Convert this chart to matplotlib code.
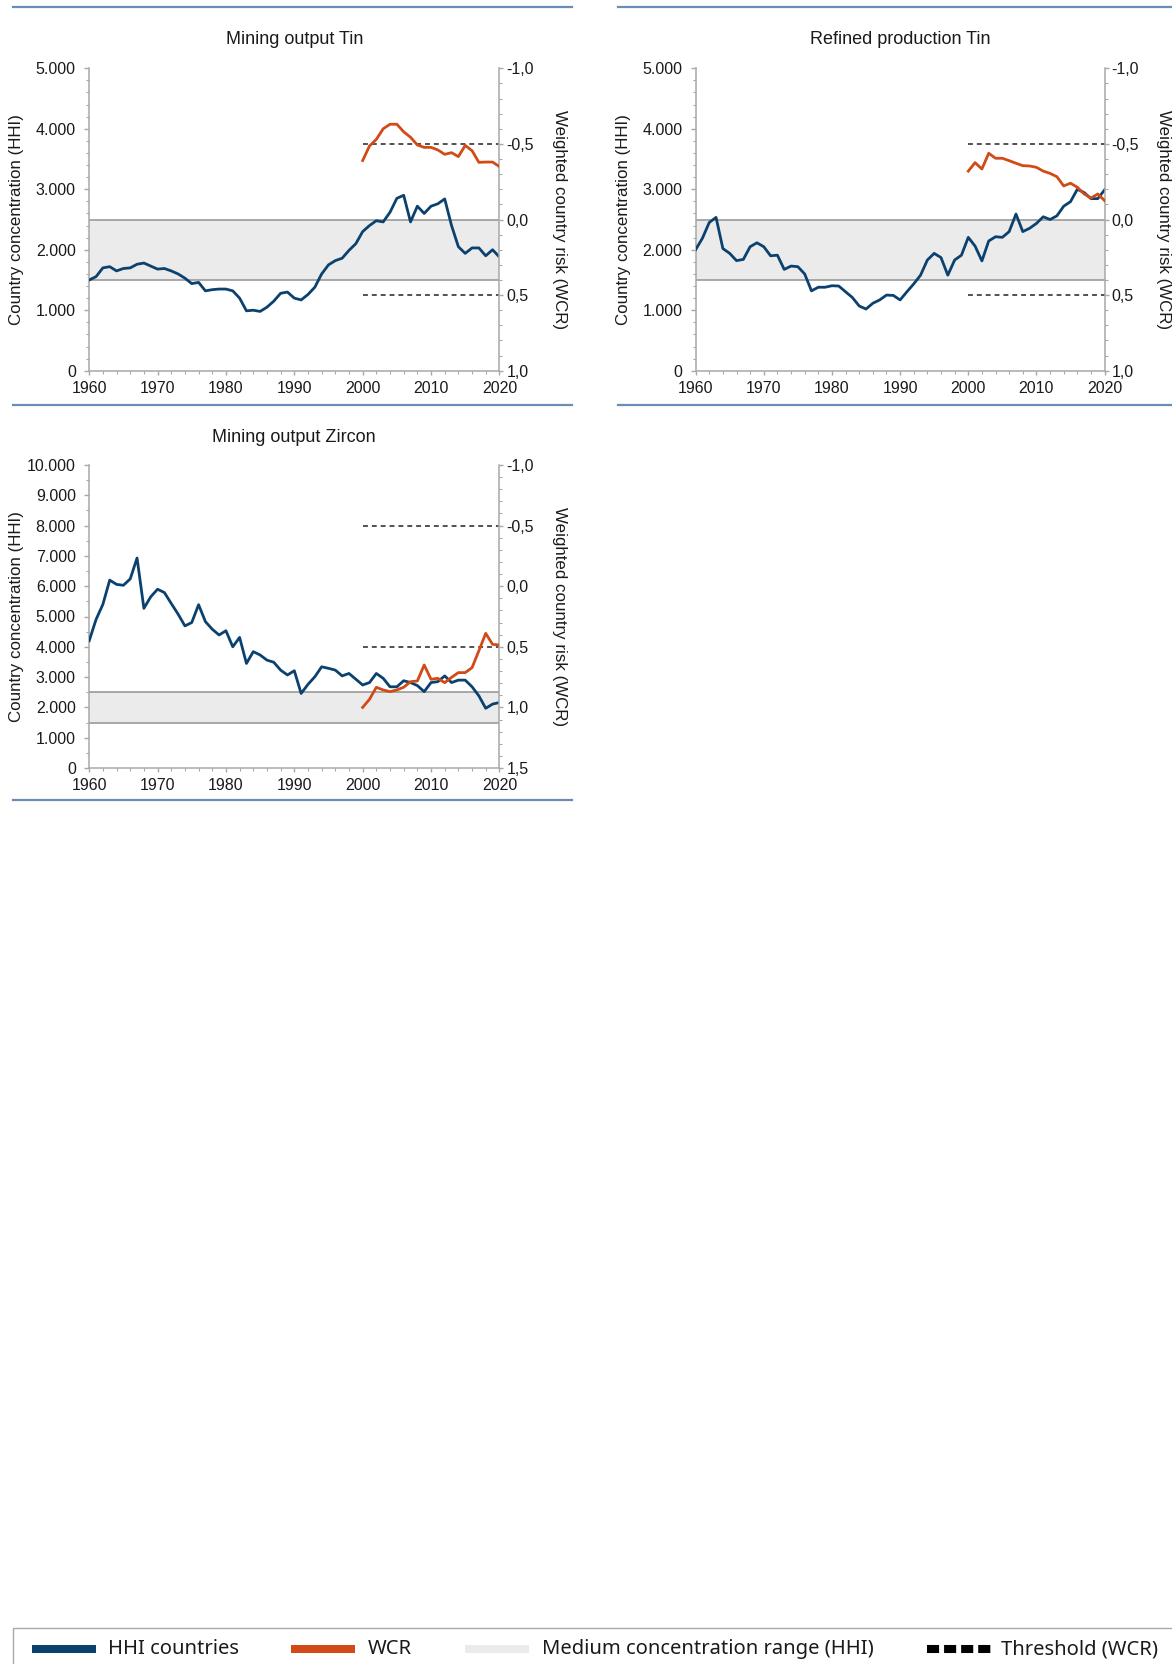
import matplotlib
matplotlib.use("Agg")
import matplotlib.pyplot as plt
from matplotlib.ticker import MultipleLocator, FuncFormatter
from matplotlib.patches import Rectangle
from matplotlib.lines import Line2D

# ---------------- data ----------------
years = list(range(1960, 2021))
wcr_years = list(range(2000, 2021))

tin_mining_hhi = [1500, 1555, 1700, 1720, 1650, 1690, 1700, 1760, 1780, 1730,
                  1680, 1690, 1650, 1600, 1530, 1440, 1460, 1320, 1340, 1350,
                  1350, 1320, 1200, 990, 1000, 980, 1050, 1150, 1280, 1300,
                  1200, 1170, 1260, 1380, 1600, 1750, 1820, 1860, 1990, 2100,
                  2300, 2400, 2480, 2460, 2620, 2850, 2900, 2460, 2720, 2600,
                  2720, 2760, 2840, 2400, 2050, 1940, 2030, 2030, 1900, 2000,
                  1880]
tin_mining_wcr = [-0.39, -0.486, -0.53, -0.60, -0.63, -0.63, -0.58, -0.544, -0.493, -0.477,
                  -0.477, -0.46, -0.431, -0.442, -0.416, -0.49, -0.455, -0.378, -0.38, -0.38,
                  -0.35]

tin_refined_hhi = [2000, 2190, 2450, 2535, 2020, 1940, 1820, 1840, 2050, 2115,
                   2050, 1900, 1910, 1675, 1730, 1720, 1600, 1320, 1380, 1380,
                   1405, 1400, 1305, 1210, 1070, 1020, 1115, 1170, 1250, 1245,
                   1170, 1305, 1435, 1580, 1830, 1940, 1870, 1580, 1830, 1910,
                   2205, 2060, 1815, 2145, 2215, 2205, 2300, 2590, 2300, 2355,
                   2435, 2545, 2500, 2560, 2720, 2795, 3000, 2945, 2845, 2845,
                   2990]
tin_refined_wcr = [-0.32, -0.376, -0.334, -0.438, -0.405, -0.405, -0.389, -0.372, -0.356, -0.354,
                   -0.345, -0.32, -0.305, -0.283, -0.222, -0.24, -0.213, -0.169, -0.142, -0.169,
                   -0.125]

zircon_hhi = [4200, 4900, 5400, 6200, 6060, 6030, 6240, 6930, 5270, 5650,
              5900, 5790, 5430, 5080, 4690, 4800, 5390, 4830, 4580, 4390,
              4530, 4000, 4310, 3450, 3840, 3730, 3560, 3490, 3230, 3070,
              3210, 2460, 2760, 3010, 3340, 3290, 3230, 3040, 3120, 2930,
              2740, 2820, 3120, 2960, 2680, 2680, 2880, 2820, 2720, 2520,
              2820, 2850, 3040, 2820, 2900, 2900, 2680, 2380, 1970, 2110,
              2160]
zircon_wcr = [1.0, 0.933, 0.834, 0.856, 0.87, 0.856, 0.834, 0.788, 0.782, 0.65,
              0.768, 0.76, 0.796, 0.752, 0.713, 0.713, 0.672, 0.532, 0.389, 0.48,
              0.485]

titles = ["Mining output Tin", "Refined production Tin", "Mining output Zircon"]
medium_range = (1500, 2500)
wcr_thresholds = [-0.5, 0.5]
left_label = "Country concentration (HHI)"
right_label = "Weighted country risk (WCR)"
legend_labels = ["HHI countries", "WCR", "Medium concentration range (HHI)", "Threshold (WCR)"]

# ---------------- style ----------------
BLUE = "#0b416f"
ORANGE = "#d24a16"
BAND = "#ebebeb"
BANDLINE = "#9a9a9a"
SPINE = "#a8a8a8"
SEP = "#6a8db3"
TXT = "#1a1a1a"
MAINFONT = ["Liberation Sans", "DejaVu Sans"]
TICKFONT = ["Liberation Sans Narrow", "Liberation Sans", "DejaVu Sans"]
plt.rcParams["font.family"] = TICKFONT

W, H = 1172, 1664
fig = plt.figure(figsize=(W / 100, H / 100), dpi=100)


def fx(px):
    return px / W


def fy(py):
    return 1 - py / H


def hhi_fmt(v, pos):
    return "{:,.0f}".format(v).replace(",", ".")


def wcr_fmt(v, pos):
    s = "{:.1f}".format(v).replace(".", ",")
    if s == "-0,0":
        s = "0,0"
    return s


def make_panel(left_px, right_px, top_px, bottom_px, title, hhi, wcr,
               hhi_max, hhi_minor, wcr_lim, lab_left_x, lab_right_x, title_y):
    ax = fig.add_axes([fx(left_px), fy(bottom_px), fx(right_px - left_px),
                       (bottom_px - top_px) / H])
    ax.axhspan(medium_range[0], medium_range[1], color=BAND, lw=0, zorder=0)
    for v in medium_range:
        ax.axhline(v, color=BANDLINE, lw=1.2, zorder=1)
    ax.plot(years, hhi, color=BLUE, lw=2.0, zorder=3, solid_joinstyle="round")
    ax.set_xlim(1960, 2020)
    ax.set_ylim(0, hhi_max)
    ax.xaxis.set_major_locator(MultipleLocator(10))
    ax.xaxis.set_minor_locator(MultipleLocator(2))
    ax.yaxis.set_major_locator(MultipleLocator(1000))
    ax.yaxis.set_minor_locator(MultipleLocator(hhi_minor))
    ax.yaxis.set_major_formatter(FuncFormatter(hhi_fmt))
    for s in ["top", "right"]:
        ax.spines[s].set_visible(False)
    for s in ["left", "bottom"]:
        ax.spines[s].set_color(SPINE)
        ax.spines[s].set_linewidth(1.1)
    ax.tick_params(which="both", colors=SPINE, labelcolor=TXT, labelsize=11.5)
    ax.tick_params(axis="y", which="major", length=3.6, width=1, pad=6)
    ax.tick_params(axis="y", which="minor", length=2.5, width=0.8)
    ax.tick_params(axis="x", which="major", length=3, width=1, pad=4.5)
    ax.tick_params(axis="x", which="minor", length=2, width=0.8)

    ax2 = ax.twinx()
    ax2.set_ylim(wcr_lim[1], wcr_lim[0])
    ax2.hlines(wcr_thresholds, 2000, 2020, colors="#222222", lw=1.1,
               linestyles=(0, (3.2, 2.6)), zorder=2)
    ax2.plot(wcr_years, wcr, color=ORANGE, lw=2.0, zorder=4, solid_joinstyle="round")
    ax2.yaxis.set_major_locator(MultipleLocator(0.5))
    ax2.yaxis.set_minor_locator(MultipleLocator(0.1))
    ax2.yaxis.set_major_formatter(FuncFormatter(wcr_fmt))
    for s in ["top", "left", "bottom"]:
        ax2.spines[s].set_visible(False)
    ax2.spines["right"].set_color(SPINE)
    ax2.spines["right"].set_linewidth(1.1)
    ax2.tick_params(which="both", colors=SPINE, labelcolor=TXT, labelsize=11.5)
    ax2.tick_params(axis="y", which="major", length=3, width=1, pad=2)
    ax2.tick_params(axis="y", which="minor", length=2.5, width=0.8)

    cy = fy((top_px + bottom_px) / 2)
    fig.text(fx(lab_left_x), cy, left_label, rotation=90, ha="center", va="center",
             fontsize=12.2, color=TXT, family=MAINFONT)
    fig.text(fx(lab_right_x), cy, right_label, rotation=270, ha="center", va="center",
             fontsize=12.2, color=TXT, family=MAINFONT)
    fig.text(fx((left_px + right_px) / 2), fy(title_y), title, ha="center", va="center",
             fontsize=13, color=TXT, family=MAINFONT)
    return ax, ax2


make_panel(89.2, 499.4, 68.3, 370.7, titles[0], tin_mining_hhi, tin_mining_wcr,
           5000, 200, (-1.0, 1.0), 17.0, 559, 40.0)
make_panel(695.6, 1104.6, 68.3, 370.7, titles[1], tin_refined_hhi, tin_refined_wcr,
           5000, 200, (-1.0, 1.0), 623.5, 1163, 40.0)
make_panel(89.2, 499.4, 465, 768, titles[2], zircon_hhi, zircon_wcr,
           10000, 500, (-1.0, 1.5), 17.0, 559, 437.0)

# separator lines
for (x0, x1, y) in [(13, 572, 7), (13, 572, 405), (617.5, 1172, 7), (617.5, 1172, 405),
                    (13, 572, 800)]:
    fig.add_artist(Line2D([fx(x0), fx(x1)], [fy(y), fy(y)], color=SEP, lw=1.6))

# legend box
fig.add_artist(Rectangle((fx(13), fy(1700)), fx(1172 + 10 - 13), (1700 - 1628) / H,
                         facecolor="none", edgecolor="#a9a9a9", lw=1.0))
LFONT = ["Noto Sans", "DejaVu Sans"]
ly = 1649
patch_h = 8
for x0, col in [(32, BLUE), (291, ORANGE), (465, BAND)]:
    fig.add_artist(Rectangle((fx(x0), fy(ly + patch_h / 2)), fx(64), patch_h / H,
                             facecolor=col, edgecolor="none"))
fig.add_artist(Line2D([fx(927), fx(991)], [fy(ly), fy(ly)], color="black", lw=5.8,
                      dash_capstyle="butt", linestyle=(0, (1.5, 0.62))))
for x0, lab in zip([108, 368, 542, 1001], legend_labels):
    fig.text(fx(x0), fy(ly), lab, ha="left", va="center", fontsize=14.5,
             family=LFONT, color=TXT)

fig.savefig("out.png", dpi=100)
